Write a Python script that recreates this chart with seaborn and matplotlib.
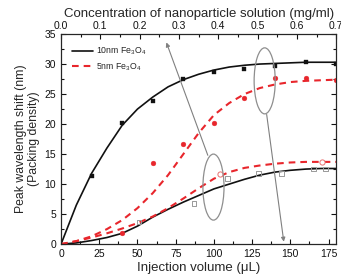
import matplotlib
matplotlib.use("Agg")
import matplotlib.pyplot as plt
from matplotlib.patches import Ellipse
from matplotlib.ticker import MultipleLocator
import numpy as np
import pandas as pd
import seaborn as sns

# fitted curves, every 10 uL
curve_x = [0, 10, 20, 30, 40, 50, 60, 70, 80, 90, 100, 110, 120, 130, 140, 150, 160, 170, 180]
fit_10nm_high = [0, 6.5, 11.8, 16.0, 19.8, 22.5, 24.5, 26.2, 27.4, 28.3, 29.0, 29.5, 29.8, 30.0, 30.1, 30.2, 30.3, 30.3, 30.3]
fit_5nm_high = [0, 0.5, 1.3, 2.5, 4.0, 6.0, 8.5, 11.5, 15.0, 18.5, 21.5, 23.5, 25.0, 26.0, 26.6, 27.0, 27.2, 27.3, 27.4]
fit_10nm_low = [0, 0.2, 0.6, 1.1, 1.8, 3.0, 4.5, 5.8, 7.0, 8.1, 9.2, 10.0, 10.8, 11.5, 12.0, 12.3, 12.5, 12.6, 12.6]
fit_5nm_low = [0, 0.5, 1.1, 1.8, 2.6, 3.5, 4.6, 6.0, 7.6, 9.3, 10.9, 12.0, 12.7, 13.1, 13.4, 13.6, 13.7, 13.7, 13.7]

# measured points
pts_10nm_high_x = [20, 40, 60, 80, 100, 120, 140, 160, 180]
pts_10nm_high_y = [11.3, 20.2, 23.8, 27.5, 28.7, 29.2, 29.7, 30.3, 30.0]
pts_5nm_high_x = [40, 60, 80, 100, 120, 140, 160, 180]
pts_5nm_high_y = [1.8, 13.5, 16.7, 20.2, 24.3, 27.7, 27.7, 27.3]
pts_10nm_low_x = [51, 87, 109, 129, 144, 165, 173]
pts_10nm_low_y = [3.7, 6.8, 11.0, 11.7, 11.7, 12.5, 12.5]
pts_5nm_low_x = [104, 171]
pts_5nm_low_y = [11.7, 13.7]

labels = ["10nm Fe$_3$O$_4$", "5nm Fe$_3$O$_4$"]

sns.set_style("ticks")
plt.rcParams['font.family'] = ['Liberation Sans', 'DejaVu Sans']
plt.rcParams['mathtext.fontset'] = 'custom'
plt.rcParams['mathtext.rm'] = 'Liberation Sans'

fig, ax = plt.subplots(figsize=(3.41, 2.79), dpi=100)
fig.subplots_adjust(left=0.179, right=0.986, bottom=0.125, top=0.878)

black = '#111111'
red = '#e8262c'
dash = (0, (3.2, 2.4))

sns.lineplot(x=curve_x, y=fit_10nm_high, ax=ax, color=black, linewidth=1.2, label=labels[0])
sns.lineplot(x=curve_x, y=fit_5nm_high, ax=ax, color=red, linewidth=1.5, linestyle=dash, label=labels[1])
sns.lineplot(x=curve_x, y=fit_10nm_low, ax=ax, color=black, linewidth=1.2)
sns.lineplot(x=curve_x, y=fit_5nm_low, ax=ax, color=red, linewidth=1.5, linestyle=dash)

sns.scatterplot(x=pts_10nm_high_x, y=pts_10nm_high_y, ax=ax, marker='s', s=10, color=black, edgecolor=black, zorder=3)
sns.scatterplot(x=pts_5nm_high_x, y=pts_5nm_high_y, ax=ax, marker='o', s=12, color=red, edgecolor=red, zorder=3)
sns.scatterplot(x=pts_10nm_low_x, y=pts_10nm_low_y, ax=ax, marker='s', s=12, facecolor='none', edgecolor='#999999', linewidth=0.7, zorder=3)
sns.scatterplot(x=pts_5nm_low_x, y=pts_5nm_low_y, ax=ax, marker='o', s=14, facecolor='white', edgecolor='#e87070', linewidth=0.7, zorder=3)

# annotations: ellipses + arrows
for cx, cy in [(133.2, 27.2), (99.7, 9.5)]:
    ax.add_patch(Ellipse((cx, cy), 13.8, 11.0, fill=False, edgecolor='#8e8e8e', linewidth=0.9, zorder=4))
ax.annotate('', xy=(68.9, 33.6), xytext=(96.0, 14.8),
            arrowprops=dict(arrowstyle='-|>', color='#808080', lw=0.8, mutation_scale=6, shrinkA=0, shrinkB=0))
ax.annotate('', xy=(145.7, 0.4), xytext=(134.5, 21.6),
            arrowprops=dict(arrowstyle='-|>', color='#808080', lw=0.8, mutation_scale=6, shrinkA=0, shrinkB=0))

ax.set_xlim(0, 180)
ax.set_ylim(0, 35)
ax.xaxis.set_major_locator(MultipleLocator(25))
ax.xaxis.set_minor_locator(MultipleLocator(12.5))
ax.yaxis.set_major_locator(MultipleLocator(5))
ax.yaxis.set_minor_locator(MultipleLocator(2.5))
ax.tick_params(which='both', direction='in', top=False, right=True, labelsize=7.5, colors=black, width=0.8)
ax.tick_params(which='major', length=3.5)
ax.tick_params(which='minor', length=2)
for sp in ax.spines.values():
    sp.set_visible(True)
    sp.set_color(black)
    sp.set_linewidth(0.8)

ax.set_xlabel('Injection volume (\u03bcL)', fontsize=9.5, labelpad=2)
ax.set_ylabel('Peak wavelength shift (nm)\n(Packing density)', fontsize=8.8, labelpad=3, linespacing=1.1)

ax2 = ax.twiny()
ax2.set_xlim(0, 0.70)
ax2.xaxis.set_major_locator(MultipleLocator(0.1))
ax2.xaxis.set_minor_locator(MultipleLocator(0.05))
ax2.tick_params(which='both', direction='in', labelsize=7.5, colors=black, width=0.8, pad=2)
ax2.tick_params(which='major', length=3.5)
ax2.tick_params(which='minor', length=2)
ax2.set_xticklabels([f'{v:.1f}' for v in ax2.get_xticks()])
ax2.set_xlabel('Concentration of nanoparticle solution (mg/ml)', fontsize=9.5, labelpad=3)

leg = ax.legend(loc='upper left', bbox_to_anchor=(0.02, 0.97), frameon=False, fontsize=6.3,
                handlelength=2.4, handletextpad=0.4, labelspacing=0.5, borderaxespad=0.2)

fig.savefig('out.png', dpi=100)
